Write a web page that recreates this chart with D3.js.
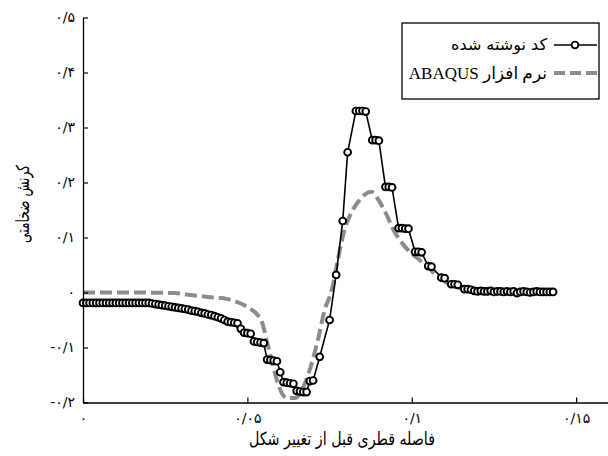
<!doctype html>
<html>
<head>
<meta charset="utf-8">
<script src="https://d3js.org/d3.v7.min.js"></script>
<style>
  body { margin: 0; background: #fff; }
  .fa { font-family: "DejaVu Sans", sans-serif; }
</style>
</head>
<body>
<div id="chart"></div>
<script>
// written code (black line with circles)
var codeX = [
  0.000, 0.001, 0.002, 0.003, 0.004, 0.005, 0.006, 0.007, 0.008, 0.009,
  0.010, 0.011, 0.012, 0.013, 0.014, 0.015, 0.016, 0.017, 0.018, 0.019,
  0.020, 0.021, 0.022, 0.023, 0.024, 0.025, 0.026, 0.027, 0.028, 0.029,
  0.030, 0.031, 0.032, 0.033, 0.034, 0.035, 0.036, 0.037, 0.038, 0.039,
  0.040, 0.041, 0.042, 0.043, 0.044, 0.045, 0.046, 0.047, 0.048, 0.049,
  0.050, 0.051, 0.052, 0.053, 0.054, 0.055, 0.056, 0.057, 0.058, 0.059,
  0.060, 0.061, 0.062, 0.063, 0.064, 0.065, 0.066, 0.067, 0.068, 0.069,
  0.070, 0.072, 0.075, 0.077, 0.079, 0.0805,
  0.083, 0.084, 0.085, 0.086, 0.088, 0.089, 0.090,
  0.092, 0.093, 0.094, 0.096, 0.097, 0.098, 0.099,
  0.101, 0.102, 0.103, 0.105, 0.106, 0.109, 0.110,
  0.112, 0.113, 0.114, 0.116, 0.117, 0.118,
  0.119, 0.120, 0.121, 0.122, 0.123, 0.124, 0.125, 0.126, 0.127, 0.128,
  0.129, 0.130, 0.131, 0.132, 0.133, 0.134, 0.135, 0.136, 0.137, 0.138,
  0.139, 0.140, 0.141, 0.142, 0.143
];
var codeY = [
  -0.019, -0.019, -0.019, -0.019, -0.019, -0.019, -0.019, -0.019, -0.019, -0.019,
  -0.019, -0.019, -0.019, -0.019, -0.019, -0.019, -0.019, -0.019, -0.019, -0.019,
  -0.019, -0.020, -0.021, -0.022, -0.023, -0.024, -0.025, -0.026, -0.027, -0.028,
  -0.029, -0.030, -0.031, -0.033, -0.034, -0.035, -0.037, -0.038, -0.040, -0.041,
  -0.043, -0.045, -0.047, -0.050, -0.053, -0.054, -0.055, -0.056, -0.066, -0.073,
  -0.074, -0.075, -0.089, -0.090, -0.091, -0.092, -0.122, -0.123, -0.124, -0.125,
  -0.145, -0.163, -0.164, -0.165, -0.166, -0.179, -0.180, -0.181, -0.181, -0.161,
  -0.160, -0.117, -0.050, 0.032, 0.130, 0.255,
  0.330, 0.330, 0.330, 0.329, 0.277, 0.277, 0.276,
  0.192, 0.192, 0.191, 0.117, 0.117, 0.116, 0.116,
  0.074, 0.074, 0.073, 0.048, 0.047, 0.027, 0.026,
  0.015, 0.015, 0.014, 0.006, 0.006, 0.005,
  0.003, 0.002, 0.003, 0.002, 0.002, 0.003, 0.001, 0.002, 0.002, 0.001,
  0.002, 0.001, 0.002, -0.001, 0.001, 0.002, 0.001, 0.000, 0.001, 0.002,
  0.001, 0.001, 0.001, 0.001, 0.001
];

// ABAQUS (grey dashed)
var abaqusX = [0, 0.014, 0.028, 0.032, 0.038, 0.044, 0.048, 0.051, 0.053, 0.0545,
  0.056, 0.0575, 0.059, 0.0605, 0.062, 0.0645, 0.067, 0.069, 0.0715, 0.0735,
  0.0757, 0.0775, 0.0796, 0.0812, 0.0836, 0.0857, 0.0878, 0.0897, 0.0918, 0.0948,
  0.0964, 0.0994, 0.1024, 0.1055, 0.1076, 0.1106, 0.1137, 0.1176, 0.1222, 0.1267, 0.141];
var abaqusY = [0.000, 0.000, -0.001, -0.004, -0.008, -0.012, -0.020, -0.030, -0.040, -0.055,
  -0.090, -0.125, -0.160, -0.183, -0.192, -0.192, -0.172, -0.140, -0.085, -0.032,
  0.005, 0.059, 0.115, 0.140, 0.164, 0.178, 0.183, 0.170, 0.148, 0.110,
  0.095, 0.074, 0.059, 0.043, 0.030, 0.018, 0.010, 0.006, 0.004, 0.003, 0.002];

var xTicks = [0, 0.05, 0.1, 0.15];
var xTickLabels = ["۰", "۰/۰۵", "۰/۱", "۰/۱۵"];
var yTicks = [-0.2, -0.1, 0, 0.1, 0.2, 0.3, 0.4, 0.5];
var yTickLabels = ["-۰/۲", "-۰/۱", "۰", "۰/۱", "۰/۲", "۰/۳", "۰/۴", "۰/۵"];

var seriesNames = ["کد نوشته شده", "نرم افزار ABAQUS"];
var xTitle = "فاصله قطری قبل از تغییر شکل";
var yTitle = "کرنش ضخامتی";

var W = 608, H = 456;
var mLeft = 83, mRight = 609, mTop = 17.5, mBottom = 402.5;

var x = d3.scaleLinear().domain([0, 0.16]).range([mLeft, mRight]);
var y = d3.scaleLinear().domain([-0.2, 0.5]).range([mBottom, mTop]);

var svg = d3.select("#chart").append("svg")
  .attr("width", W).attr("height", H);

var grey = "#8c8c8c";

// abaqus curve
var abaqus = abaqusX.map(function (d, i) { return [d, abaqusY[i]]; });
svg.append("path")
  .datum(abaqus)
  .attr("fill", "none")
  .attr("stroke", grey)
  .attr("stroke-width", 4)
  .attr("stroke-dasharray", "12,5")
  .attr("d", d3.line().x(function (d) { return x(d[0]); }).y(function (d) { return y(d[1]); })
    .curve(d3.curveMonotoneX));

// code curve
var code = codeX.map(function (d, i) { return [d, codeY[i]]; });
svg.append("path")
  .datum(code)
  .attr("fill", "none")
  .attr("stroke", "#000")
  .attr("stroke-width", 1.6)
  .attr("d", d3.line().x(function (d) { return x(d[0]); }).y(function (d) { return y(d[1]); }));

svg.selectAll(".dot")
  .data(code)
  .enter().append("circle")
  .attr("class", "dot")
  .attr("cx", function (d) { return x(d[0]); })
  .attr("cy", function (d) { return y(d[1]); })
  .attr("r", 3.4)
  .attr("fill", "#fff")
  .attr("stroke", "#000")
  .attr("stroke-width", 1.9);

// axes
var xAxis = d3.axisBottom(x).tickValues(xTicks)
  .tickFormat(function (d, i) { return xTickLabels[i]; })
  .tickSizeInner(-5).tickSizeOuter(0).tickPadding(11);
var gx = svg.append("g").attr("transform", "translate(0," + mBottom + ")").call(xAxis);

var yAxis = d3.axisLeft(y).tickValues(yTicks)
  .tickFormat(function (d, i) { return yTickLabels[i]; })
  .tickSizeInner(-5).tickSizeOuter(0).tickPadding(8);
var gy = svg.append("g").attr("transform", "translate(" + mLeft + ",0)").call(yAxis);

[gx, gy].forEach(function (g) {
  g.select(".domain").attr("stroke", "#000").attr("stroke-width", 1.3);
  g.selectAll(".tick line").attr("stroke", "#000").attr("stroke-width", 1.2);
  g.selectAll(".tick text")
    .attr("fill", "#000")
    .attr("font-family", "DejaVu Sans, sans-serif")
    .attr("font-size", 14)
    .attr("direction", "ltr");
});

// axis titles
svg.append("text")
  .attr("class", "fa")
  .attr("x", 342).attr("y", 445)
  .attr("text-anchor", "middle")
  .attr("font-size", 18)
  .attr("textLength", 186)
  .attr("lengthAdjust", "spacingAndGlyphs")
  .text(xTitle);

svg.append("text")
  .attr("class", "fa")
  .attr("transform", "translate(29,204) rotate(-90)")
  .attr("text-anchor", "middle")
  .attr("font-size", 18)
  .attr("textLength", 78)
  .attr("lengthAdjust", "spacingAndGlyphs")
  .text(yTitle);

// legend
var lg = svg.append("g");
lg.append("rect")
  .attr("x", 402).attr("y", 23).attr("width", 197).attr("height", 76)
  .attr("fill", "#fff").attr("stroke", "#000").attr("stroke-width", 1.3);

lg.append("line").attr("x1", 554).attr("x2", 597).attr("y1", 45).attr("y2", 45)
  .attr("stroke", "#000").attr("stroke-width", 1.6);
lg.append("circle").attr("cx", 575).attr("cy", 45).attr("r", 3.4)
  .attr("fill", "#fff").attr("stroke", "#000").attr("stroke-width", 1.9);
lg.append("line").attr("x1", 554).attr("x2", 597).attr("y1", 73).attr("y2", 73)
  .attr("stroke", grey).attr("stroke-width", 4).attr("stroke-dasharray", "11,5");

lg.append("text").attr("class", "fa")
  .attr("x", 547).attr("y", 50).attr("text-anchor", "start")
  .attr("direction", "rtl")
  .attr("font-size", 16)
  .text(seriesNames[0]);
lg.append("text")
  .attr("x", 547).attr("y", 79).attr("text-anchor", "start")
  .attr("direction", "rtl")
  .attr("font-family", "Liberation Serif, DejaVu Sans, serif")
  .attr("font-size", 17)
  .text(seriesNames[1]);
</script>
</body>
</html>
